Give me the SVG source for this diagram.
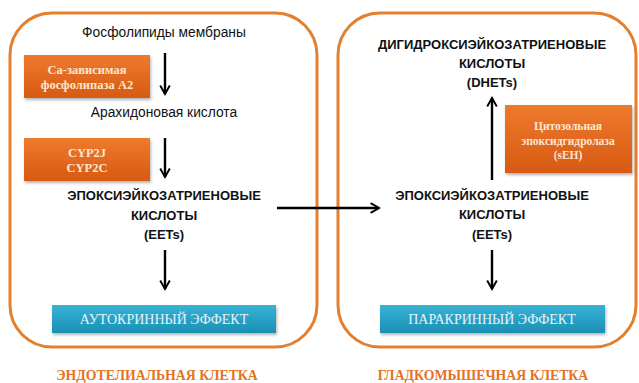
<svg xmlns="http://www.w3.org/2000/svg" width="639" height="383" viewBox="0 0 639 383">
<defs>
<linearGradient id="og" x1="0" y1="0" x2="0" y2="1"><stop offset="0" stop-color="#ee7a2e"/><stop offset="1" stop-color="#d75a12"/></linearGradient>
<linearGradient id="bg" x1="0" y1="0" x2="0" y2="1"><stop offset="0" stop-color="#37b3d6"/><stop offset="1" stop-color="#1b8fb4"/></linearGradient>
<filter id="sh" x="-10%" y="-10%" width="120%" height="130%"><feDropShadow dx="1" dy="2" stdDeviation="1.5" flood-color="#000" flood-opacity="0.3"/></filter>
<marker id="ah" viewBox="0 0 10 10" refX="8" refY="5" markerWidth="5" markerHeight="5" orient="auto" markerUnits="strokeWidth"><path d="M1,1 L8,5 L1,9" fill="none" stroke="#000" stroke-width="1.6"/></marker>
</defs>
<style>
.cell{fill:#fff;stroke:#e47f2c;stroke-width:3}
.t{font-family:"Liberation Sans",Arial,sans-serif;font-size:13.8px;fill:#111;text-anchor:middle}
.b{font-weight:bold;font-size:13px}
.ot{font-family:"Liberation Serif","Times New Roman",serif;font-weight:bold;font-size:12.5px;fill:#fde6d3;text-anchor:middle}
.ot2{font-size:11.5px}
.bt{font-family:"Liberation Serif","Times New Roman",serif;font-size:14px;fill:#e2f4fa;text-anchor:middle}
.lab{font-family:"Liberation Serif","Times New Roman",serif;font-weight:bold;font-size:13.8px;fill:#e3731f;text-anchor:middle}
.ob{fill:url(#og);filter:url(#sh)}
.bb{fill:url(#bg);filter:url(#sh)}
.ar{stroke:#000;stroke-width:2.4;fill:none;marker-end:url(#ah)}
</style>
<rect x="0" y="0" width="639" height="383" fill="#fff"/>
<g id="endothelial">
<rect class="cell" x="10" y="13" width="307" height="334" rx="42"/>
<text class="lab" x="157" y="380">ЭНДОТЕЛИАЛЬНАЯ КЛЕТКА</text>
</g>
<g id="smooth">
<rect class="cell" x="338" y="13" width="298" height="334" rx="42"/>
<text class="lab" x="483" y="380">ГЛАДКОМЫШЕЧНАЯ КЛЕТКА</text>
</g>
<g id="phospholipids"><text class="t" x="164" y="37">Фосфолипиды мембраны</text></g>
<g id="pla2"><rect class="ob" x="24" y="55" width="126" height="43"/>
<text class="ot" x="87" y="74">Са-зависимая</text><text class="ot" x="87" y="89">фосфолипаза А2</text></g>
<g id="arachidonic"><text class="t" x="164" y="117">Арахидоновая кислота</text></g>
<g id="cyp"><rect class="ob" x="24" y="138" width="126" height="43"/>
<text class="ot" x="87" y="157">CYP2J</text><text class="ot" x="87" y="172">CYP2C</text></g>
<g id="eets1"><text class="t b" x="164" y="200">ЭПОКСИЭЙКОЗАТРИЕНОВЫЕ</text><text class="t b" x="164" y="220">КИСЛОТЫ</text><text class="t b" x="164" y="239">(EETs)</text></g>
<g id="autocrine"><rect class="bb" x="52" y="305" width="224" height="28"/><text class="bt" x="164" y="324">АУТОКРИННЫЙ ЭФФЕКТ</text></g>
<g id="dhets"><text class="t b" x="492" y="49">ДИГИДРОКСИЭЙКОЗАТРИЕНОВЫЕ</text><text class="t b" x="492" y="68">КИСЛОТЫ</text><text class="t b" x="492" y="87">(DHETs)</text></g>
<g id="seh"><rect class="ob" x="505" y="105" width="127" height="68"/>
<text class="ot ot2" x="568" y="130">Цитозольная</text><text class="ot ot2" x="568" y="145">эпоксидгидролаза</text><text class="ot ot2" x="568" y="159">(sEH)</text></g>
<g id="eets2"><text class="t b" x="492" y="200">ЭПОКСИЭЙКОЗАТРИЕНОВЫЕ</text><text class="t b" x="492" y="219">КИСЛОТЫ</text><text class="t b" x="492" y="239">(EETs)</text></g>
<g id="paracrine"><rect class="bb" x="380" y="305" width="225" height="28"/><text class="bt" x="492" y="324">ПАРАКРИННЫЙ ЭФФЕКТ</text></g>
<g id="connectors">
<line class="ar" x1="165" y1="53" x2="165" y2="94"/>
<line class="ar" x1="165" y1="138" x2="165" y2="177"/>
<line class="ar" x1="165" y1="250" x2="165" y2="289"/>
<line class="ar" x1="277" y1="208" x2="379" y2="208"/>
<line class="ar" x1="492" y1="180" x2="492" y2="98"/>
<line class="ar" x1="492" y1="250" x2="492" y2="289"/>
</g>
</svg>
